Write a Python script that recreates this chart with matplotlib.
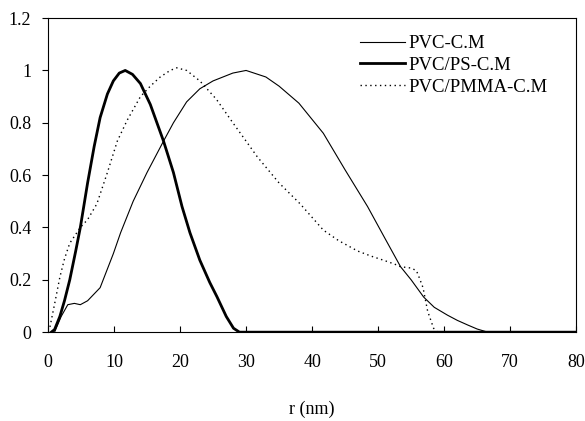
import matplotlib.pyplot as plt

plt.rcParams['font.family'] = ['Liberation Serif', 'DejaVu Serif']

# PVC-C.M (thin solid)
r_cm = [1.0, 2.0, 3.0, 4.0, 4.9, 6.0, 7.9, 9.9, 11.0, 12.9, 15.0, 17.5, 19.0, 21.0,
        23.0, 25.0, 28.0, 30.0, 33.0, 35.0, 38.0, 41.7, 45.0, 48.4, 51.0, 53.4, 55.0,
        56.9, 58.5, 60.5, 62.0, 63.6, 65.0, 66.6, 80.0]
y_cm = [0.0, 0.06, 0.105, 0.11, 0.105, 0.12, 0.17, 0.30, 0.38, 0.50, 0.61, 0.73, 0.80,
        0.88, 0.93, 0.96, 0.99, 1.0, 0.975, 0.94, 0.875, 0.76, 0.62, 0.48, 0.36, 0.25,
        0.20, 0.134, 0.095, 0.065, 0.045, 0.027, 0.012, 0.0, 0.0]

# PVC/PS-C.M (thick solid)
r_ps = [0.5, 1.0, 1.8, 2.5, 3.3, 4.2, 4.9, 6.0, 7.0, 7.9, 9.0, 9.9, 10.8, 11.7, 12.8,
        14.0, 15.5, 17.5, 19.0, 20.3, 21.5, 23.0, 24.5, 25.6, 27.0, 28.1, 29.0, 80.0]
y_ps = [0.0, 0.01, 0.06, 0.12, 0.20, 0.31, 0.40, 0.57, 0.71, 0.82, 0.91, 0.96, 0.99, 1.0,
        0.985, 0.95, 0.87, 0.73, 0.61, 0.48, 0.38, 0.275, 0.19, 0.135, 0.06, 0.015, 0.0, 0.0]

# PVC/PMMA-C.M (dotted)
r_pm = [0.3, 1.1, 1.8, 2.5, 3.3, 4.9, 6.0, 7.4, 9.0, 10.5, 12.0, 14.0, 15.5, 17.0, 18.5,
        19.5, 21.0, 23.0, 25.5, 28.0, 30.0, 31.7, 35.0, 38.2, 41.7, 44.0, 46.9, 49.0,
        50.8, 52.5, 53.4, 55.0, 55.8, 56.2, 56.8, 57.5, 58.4, 59.0, 80.0]
y_pm = [0.02, 0.12, 0.21, 0.28, 0.34, 0.40, 0.43, 0.49, 0.61, 0.73, 0.81, 0.90, 0.94,
        0.975, 1.0, 1.01, 1.0, 0.96, 0.89, 0.80, 0.73, 0.67, 0.57, 0.49, 0.39, 0.35,
        0.31, 0.29, 0.275, 0.26, 0.25, 0.245, 0.235, 0.21, 0.17, 0.08, 0.015, 0.0, 0.0]

fig = plt.figure(figsize=(5.85, 4.21), dpi=100)
ax = fig.add_axes([0.082, 0.211, 0.903, 0.746])

ax.plot(r_cm, y_cm, color='black', lw=0.8, label='PVC-C.M')
ax.plot(r_ps, y_ps, color='black', lw=2.0, label='PVC/PS-C.M')
ax.plot(r_pm, y_pm, color='black', lw=1.0, ls=(0, (1, 2.5)), label='PVC/PMMA-C.M')

ax.set_xlim(0, 80)
ax.set_ylim(0, 1.2)
ax.set_xticks(range(0, 81, 10))
ax.set_yticks([0, 0.2, 0.4, 0.6, 0.8, 1.0, 1.2])
ax.set_yticklabels(['0', '0.2', '0.4', '0.6', '0.8', '1', '1.2'])
ax.tick_params(axis='x', direction='in', length=4, pad=16, labelsize=13)
ax.tick_params(axis='y', direction='out', length=4, pad=8, labelsize=13)

ax.set_xlabel('r (nm)', fontsize=13, labelpad=21)

ax.legend(loc='upper right', bbox_to_anchor=(0.978, 1.0), frameon=False,
          fontsize=13.5, handlelength=2.4, handletextpad=0.2, labelspacing=0.25)

plt.savefig('out.png', dpi=100)
